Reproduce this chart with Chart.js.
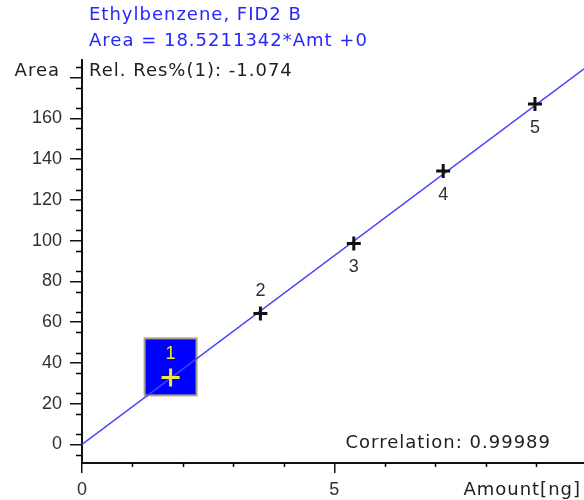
<!DOCTYPE html>
<html>
<head>
<meta charset="utf-8">
<script src="https://cdn.jsdelivr.net/npm/chart.js@4.4.1/dist/chart.umd.min.js"></script>
<style>
  html, body { margin: 0; padding: 0; background: #ffffff; overflow: hidden; }
  #calib { display: block; }
</style>
</head>
<body>
<canvas id="calib" width="584" height="500"></canvas>
<script>
// Calibration curve: Ethylbenzene on FID2 B
const compoundTitle = 'Ethylbenzene, FID2 B';
const fitSlope = 18.5211342;
const fitIntercept = 0;
const fitText = 'Area = 18.5211342*Amt +0';
const relResText = 'Rel. Res%(1): -1.074';
const correlationText = 'Correlation: 0.99989';
const xAxisTitle = 'Amount[ng]';
const yAxisTitle = 'Area';

// Calibration levels
const levelLabels = ['1', '2', '3', '4', '5'];
const amounts = [1.756, 3.536, 5.387, 7.159, 8.978];
const areas = [32.9, 64.2, 98.6, 134.1, 167.0];

// Axis ticks
const xTickValues = [0, 1, 2, 3, 4, 5, 6, 7, 8, 9];
const xLabelledTicks = [0, 5];
const yTickValues = [0, 20, 40, 60, 80, 100, 120, 140, 160, 180];
const yLabelledTicks = [0, 20, 40, 60, 80, 100, 120, 140, 160];
const yMinorTicks = [-5, 5, 15, 25, 35, 45, 55, 65, 75, 85, 95, 105, 115, 125, 135, 145, 155, 165, 175, 185];

const X_MIN = 0, X_MAX = 9.95;
const Y_MIN = -9.1, Y_MAX = 188.6;

const points = amounts.map((a, i) => ({ x: a, y: areas[i] }));
const fitLine = [X_MIN, X_MAX].map(x => ({ x: x, y: fitSlope * x + fitIntercept }));

const TEXT_FONT = '"DejaVu Sans", Verdana, sans-serif';
const NUM_FONT = '"Liberation Sans", Arial, sans-serif';

// Highlight box behind the selected level, level numbers, minor ticks and free texts
const annotate = {
  id: 'annotate',
  beforeDatasetsDraw(chart) {
    const ctx = chart.ctx;
    const p = chart.getDatasetMeta(0).data[0];
    ctx.save();
    ctx.fillStyle = '#0000ff';
    ctx.strokeStyle = '#a8a48c';
    ctx.lineWidth = 2;
    ctx.fillRect(p.x - 26, p.y - 39, 52, 57);
    ctx.strokeRect(p.x - 26, p.y - 39, 52, 57);
    ctx.restore();
  },
  afterDatasetsDraw(chart) {
    const ctx = chart.ctx;
    const xs = chart.scales.x, ys = chart.scales.y;
    const area = chart.chartArea;
    ctx.save();
    // minor ticks
    ctx.strokeStyle = '#000';
    ctx.lineWidth = 1.5;
    ctx.beginPath();
    yMinorTicks.forEach(v => {
      const py = Math.round(ys.getPixelForValue(v)) + 0.5;
      ctx.moveTo(area.left - 6, py);
      ctx.lineTo(area.left, py);
    });
    xTickValues.filter(v => !xLabelledTicks.includes(v)).forEach(v => {
      const px = Math.round(xs.getPixelForValue(v)) + 0.5;
      ctx.moveTo(px, area.bottom);
      ctx.lineTo(px, area.bottom + 4);
    });
    ctx.stroke();

    // level numbers
    const meta = chart.getDatasetMeta(0);
    ctx.font = '18px ' + NUM_FONT;
    ctx.textAlign = 'center';
    ctx.textBaseline = 'middle';
    meta.data.forEach((el, i) => {
      const above = i < 2;
      ctx.fillStyle = i === 0 ? '#f4e83c' : '#303030';
      ctx.fillText(levelLabels[i], el.x, el.y + (above ? -23 : 24));
    });

    // header and footer texts
    ctx.letterSpacing = '1px';
    ctx.textAlign = 'left';
    ctx.textBaseline = 'middle';
    ctx.font = '18px ' + TEXT_FONT;
    ctx.fillStyle = '#2626ff';
    ctx.fillText(compoundTitle, 89, 15);
    ctx.fillText(fitText, 89, 41);
    ctx.fillStyle = '#202020';
    ctx.fillText(relResText, 89, 71);
    ctx.textAlign = 'right';
    ctx.fillText(correlationText, 551, 443);
    ctx.fillText(xAxisTitle, 581, 490);
    ctx.fillText(yAxisTitle, 60, 71);
    ctx.restore();
  }
};

new Chart(document.getElementById('calib'), {
  type: 'scatter',
  data: {
    datasets: [
      {
        label: 'Levels',
        data: points,
        showLine: false,
        pointStyle: 'cross',
        pointRadius: ctx => ctx.dataIndex === 0 ? 9 : 7,
        pointBorderWidth: 3,
        pointBorderColor: ctx => ctx.dataIndex === 0 ? '#f4e83c' : '#111111',
        pointBackgroundColor: 'transparent'
      },
      {
        label: 'Fit',
        type: 'line',
        data: fitLine,
        borderColor: '#4444ff',
        borderWidth: 1.5,
        pointRadius: 0,
        fill: false
      }
    ]
  },
  options: {
    responsive: false,
    maintainAspectRatio: false,
    animation: false,
    events: [],
    layout: { autoPadding: false, padding: { top: 60, right: 0, left: 0, bottom: 0 } },
    plugins: { legend: { display: false }, tooltip: { enabled: false } },
    scales: {
      x: {
        type: 'linear',
        min: X_MIN,
        max: X_MAX,
        afterBuildTicks: s => { s.ticks = xTickValues.map(v => ({ value: v })); },
        afterFit: s => { s.height = 37; s.paddingLeft = 0; s.paddingRight = 0; },
        border: { display: true, color: '#111', width: 2 },
        grid: {
          drawOnChartArea: false,
          drawTicks: true,
          tickLength: 10,
          lineWidth: 1.5,
          color: c => xLabelledTicks.includes(c.tick && c.tick.value) ? '#111' : 'rgba(0,0,0,0)'
        },
        ticks: {
          autoSkip: false,
          maxRotation: 0,
          padding: 6,
          color: '#303030',
          font: { family: NUM_FONT, size: 18 },
          callback: v => xLabelledTicks.includes(v) ? String(v) : ''
        }
      },
      y: {
        type: 'linear',
        min: Y_MIN,
        max: Y_MAX,
        afterBuildTicks: s => { s.ticks = yTickValues.map(v => ({ value: v })); },
        afterFit: s => { s.width = 82; s.paddingTop = 0; s.paddingBottom = 0; },
        border: { display: true, color: '#111', width: 2 },
        grid: {
          drawOnChartArea: false,
          drawTicks: true,
          tickLength: 12,
          lineWidth: 1.5,
          color: '#111'
        },
        ticks: {
          autoSkip: false,
          padding: 8,
          color: '#303030',
          font: { family: NUM_FONT, size: 18 },
          callback: v => yLabelledTicks.includes(v) ? String(v) : ''
        }
      }
    }
  },
  plugins: [annotate]
});
</script>
</body>
</html>
